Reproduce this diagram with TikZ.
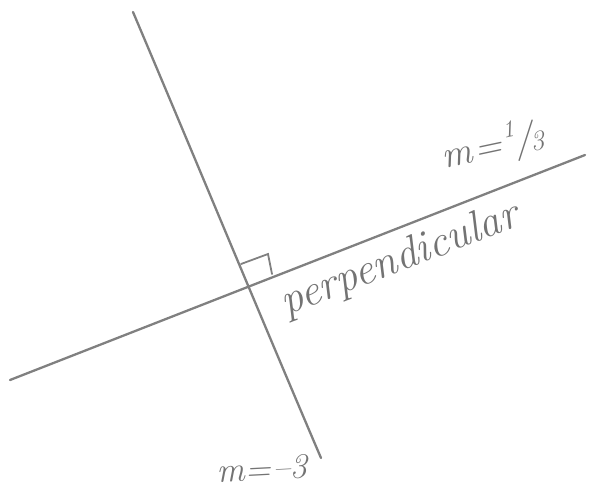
\documentclass[tikz,border=0pt]{standalone}
\usepackage{fontspec}
\begin{document}
\begin{tikzpicture}[x=1pt,y=-1pt,
  pen/.style={draw=black!50,line width=2.3pt,line cap=round},
  hand/.style={text=black!55,inner sep=0pt}]
\useasboundingbox (0,0) rectangle (593,491);
\coordinate (sTop) at (133,12);
\coordinate (sBot) at (321,458);
\coordinate (hL) at (10,380);
\coordinate (hR) at (585,155);
\coordinate (c1) at (241,264);
\coordinate (c2) at (268,254);
\coordinate (c3) at (272,274);
\draw[pen] (sTop) .. controls (200,170) and (262,320) .. (sBot);
\draw[pen] (hL) -- (hR);
\draw[pen,line width=1.8pt] (c1) -- (c2) -- (c3);
\node[hand,rotate=12,font=\itshape\fontsize{38}{40}\selectfont] (lab1) at (493,146)
  {m\kern2pt=\kern3pt\raisebox{0.45em}{\fontsize{24}{24}\selectfont 1}\kern-2pt/\kern-3pt\raisebox{-0.05em}{\fontsize{28}{28}\selectfont 3}};
\node[hand,rotate=21,font=\itshape\fontsize{44}{48}\selectfont] (lab2) at (400,260) {perpendicular};
\node[hand,rotate=3,font=\itshape\fontsize{35}{40}\selectfont] (lab3) at (262,469) {m\kern1pt=\kern1pt–3};
\end{tikzpicture}
\end{document}
